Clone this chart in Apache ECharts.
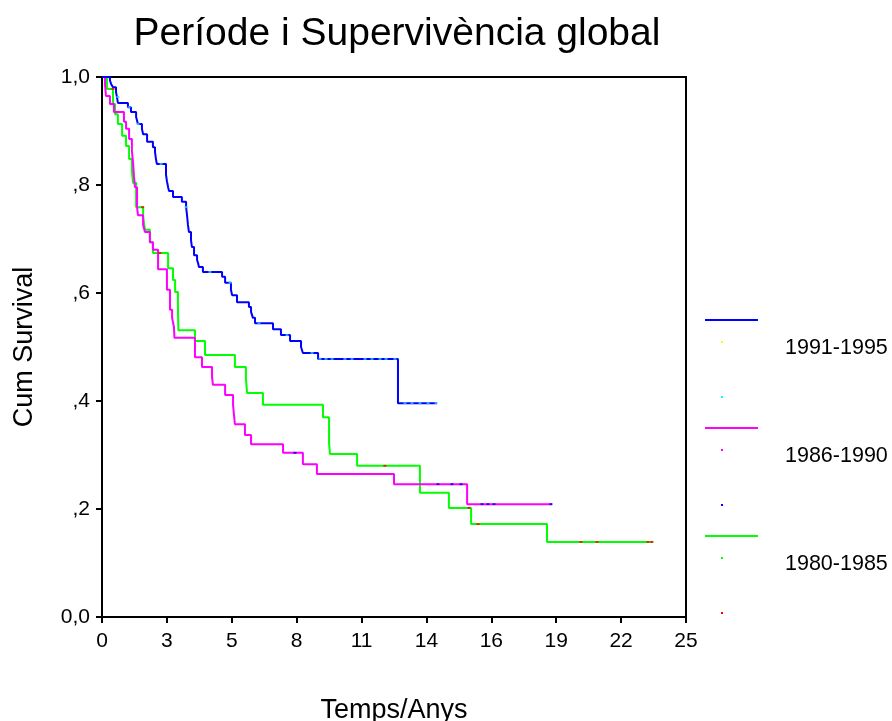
<!DOCTYPE html>
<html>
<head>
<meta charset="utf-8">
<script src="https://cdn.jsdelivr.net/npm/echarts@6/dist/echarts.min.js"></script>
<style>html,body{margin:0;padding:0;background:#fff;}#c{width:892px;height:721px;}</style>
</head>
<body>
<div id="c"></div>
<script>
var titleText = 'Període i Supervivència global';
var xTickLabels = ['0','3','5','8','11','14','16','19','22','25'];
var yTickLabels = ['0,0',',2',',4',',6',',8','1,0'];
var groupNames = ['1991-1995','1986-1990','1980-1985'];

// Kaplan-Meier steps [time, survival after drop]
var s1991 = [[0,1],[0.34,0.994],[0.39,0.987],[0.47,0.981],[0.60,0.972],[0.64,0.963],[0.68,0.952],[1.11,0.944],[1.24,0.935],[1.46,0.926],[1.54,0.913],[1.71,0.904],[1.76,0.894],[1.93,0.880],[2.18,0.870],[2.27,0.861],[2.31,0.848],[2.35,0.839],[2.74,0.819],[2.78,0.807],[2.83,0.796],[2.87,0.789],[3.04,0.778],[3.42,0.769],[3.60,0.759],[3.64,0.744],[3.68,0.726],[3.72,0.713],[3.81,0.698],[3.85,0.685],[3.94,0.670],[4.07,0.661],[4.11,0.656],[4.15,0.648],[4.32,0.639],[5.14,0.630],[5.27,0.619],[5.52,0.606],[5.57,0.596],[5.78,0.583],[6.29,0.574],[6.38,0.565],[6.46,0.554],[6.55,0.544],[7.32,0.533],[7.66,0.522],[8.05,0.511],[8.52,0.500],[8.60,0.489],[9.25,0.478],[12.67,0.396],[14.34,0.396]];
var s1986 = [[0,1],[0.13,0.985],[0.17,0.965],[0.34,0.950],[0.51,0.935],[0.94,0.917],[1.03,0.904],[1.16,0.885],[1.28,0.863],[1.33,0.841],[1.37,0.815],[1.41,0.796],[1.50,0.759],[1.54,0.744],[1.76,0.726],[1.84,0.713],[2.05,0.694],[2.18,0.680],[2.40,0.644],[2.78,0.606],[2.91,0.569],[3.00,0.554],[3.08,0.537],[3.10,0.517],[3.98,0.481],[4.28,0.463],[4.71,0.444],[4.75,0.430],[5.27,0.411],[5.61,0.393],[5.65,0.374],[5.69,0.357],[6.12,0.337],[6.38,0.320],[7.75,0.304],[8.60,0.283],[9.20,0.265],[12.50,0.246],[15.63,0.209],[19.26,0.209]];
var s1980 = [[0,1],[0.21,0.978],[0.47,0.950],[0.56,0.931],[0.68,0.913],[0.86,0.891],[1.03,0.872],[1.16,0.848],[1.28,0.826],[1.33,0.804],[1.46,0.759],[1.76,0.741],[1.84,0.717],[2.05,0.694],[2.18,0.674],[2.83,0.646],[3.04,0.624],[3.13,0.602],[3.25,0.574],[3.27,0.531],[3.98,0.511],[4.41,0.485],[5.69,0.463],[6.16,0.443],[6.21,0.415],[6.89,0.393],[9.46,0.370],[9.72,0.322],[9.76,0.302],[10.92,0.280],[13.61,0.230],[14.85,0.202],[15.80,0.172],[19.05,0.139],[23.59,0.139]];

// censored observations
var c1991 = [[0.68,0.963],[1.16,0.944],[1.54,0.913],[2.53,0.839],[3.60,0.759],[4.62,0.639],[5.48,0.619],[6.72,0.544],[7.92,0.522],[8.99,0.489],[9.33,0.478],[9.59,0.478],[9.85,0.478],[10.40,0.478],[10.70,0.478],[11.26,0.478],[11.56,0.478],[11.90,0.478],[12.16,0.478],[12.54,0.478],[12.97,0.396],[13.27,0.396],[13.61,0.396],[13.96,0.396],[14.30,0.396]];
var c1986 = [[8.26,0.304],[14.38,0.246],[14.98,0.246],[15.37,0.246],[16.27,0.209],[16.52,0.209],[16.78,0.209],[19.22,0.209]];
var c1980 = [[0.47,0.978],[1.74,0.759],[2.48,0.674],[12.11,0.280],[15.71,0.202],[16.10,0.172],[20.50,0.139],[21.19,0.139],[23.37,0.139],[23.54,0.139]];

var FONT = 'Liberation Sans, Arial, sans-serif';
var chart = echarts.init(document.getElementById('c'), null, {renderer:'canvas'});

function lineSeries(name, data, color){
  return {name:name, type:'line', step:'end', data:data, showSymbol:false, symbol:'none',
    lineStyle:{color:color, width:2}, itemStyle:{color:color}, z:2, animation:false};
}
function censorSeries(data, color){
  return {type:'scatter', data:data, symbol:'rect', symbolSize:[3,2], itemStyle:{color:color}, z:5, animation:false, silent:true};
}
function legendItem(y0, lineColor, dot1, dot2, label){
  return [
    {type:'line', shape:{x1:705,y1:y0,x2:758,y2:y0}, style:{stroke:lineColor, lineWidth:2}},
    {type:'rect', shape:{x:721,y:y0+21,width:2,height:2}, style:{fill:dot1}},
    {type:'text', style:{x:785,y:y0+28,text:label,font:'21.5px '+FONT,fill:'#000',textVerticalAlign:'middle',verticalAlign:'middle'}},
    {type:'rect', shape:{x:721,y:y0+76,width:2,height:2}, style:{fill:dot2}}
  ];
}

var option = {
  backgroundColor:'#fff',
  animation:false,
  title:{text:titleText, left:392, top:10, textAlign:'center',
    textStyle:{fontFamily:FONT, fontSize:39, fontWeight:'normal', color:'#000'}},
  grid:{left:102, right:206, top:77, bottom:104, show:true, borderColor:'#000', borderWidth:2, backgroundColor:'transparent',
    containLabel:false, outerBoundsMode:'none'},
  xAxis:{type:'value', min:0, max:25, interval:25/9,
    name:'Temps/Anys', nameLocation:'middle', nameGap:80,
    nameTextStyle:{fontFamily:FONT, fontSize:27, color:'#000'},
    axisLine:{show:true, lineStyle:{color:'#000', width:2}},
    axisTick:{show:true, length:6, lineStyle:{color:'#000', width:2}},
    splitLine:{show:false},
    axisLabel:{fontFamily:FONT, fontSize:21, color:'#000', margin:14,
      formatter:function(v){ return xTickLabels[Math.round(v*9/25)]; }}
  },
  yAxis:{type:'value', min:0, max:1, interval:0.2,
    name:'Cum Survival', nameLocation:'middle', nameGap:64, nameRotate:90,
    nameTextStyle:{fontFamily:FONT, fontSize:27, color:'#000'},
    axisLine:{show:true, lineStyle:{color:'#000', width:2}},
    axisTick:{show:true, length:6, lineStyle:{color:'#000', width:2}},
    splitLine:{show:false},
    axisLabel:{fontFamily:FONT, fontSize:21, color:'#000', margin:12,
      formatter:function(v){ return yTickLabels[Math.round(v*5)]; }}
  },
  series:[
    lineSeries(groupNames[2], s1980, '#00ff00'),
    lineSeries(groupNames[1], s1986, '#ff00ff'),
    lineSeries(groupNames[0], s1991, '#0000ff'),
    censorSeries(c1980, '#ff0000'),
    censorSeries(c1986, '#0000ff'),
    censorSeries(c1991, '#33ccff')
  ],
  graphic:[].concat(
    legendItem(320, '#0000ff', '#ffff00', '#00ffff', groupNames[0]),
    legendItem(428, '#ff00ff', '#ff00ff', '#0000ff', groupNames[1]),
    legendItem(536, '#00ff00', '#00ff00', '#ff0000', groupNames[2])
  )
};
chart.setOption(option);
</script>
</body>
</html>
